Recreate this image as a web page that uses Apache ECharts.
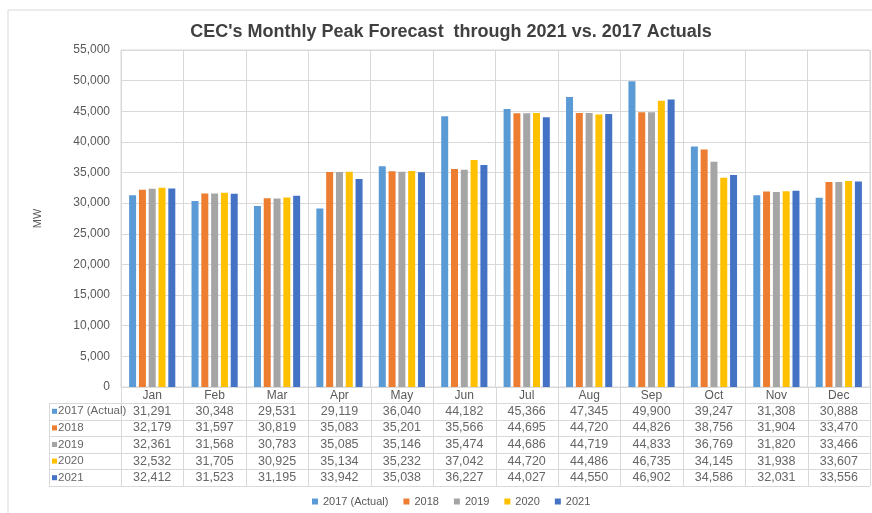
<!DOCTYPE html>
<html><head><meta charset="utf-8">
<script src="https://cdn.jsdelivr.net/npm/echarts@6/dist/echarts.min.js"></script>
<style>html,body{margin:0;padding:0;background:#fff}#c{width:872px;height:513px}</style>
</head><body><div id="c"></div>
<script>
const months = ['Jan','Feb','Mar','Apr','May','Jun','Jul','Aug','Sep','Oct','Nov','Dec'];
const seriesNames = ['2017 (Actual)','2018','2019','2020','2021'];
const s2017 = [31291,30348,29531,29119,36040,44182,45366,47345,49900,39247,31308,30888];
const s2018 = [32179,31597,30819,35083,35201,35566,44695,44720,44826,38756,31904,33470];
const s2019 = [32361,31568,30783,35085,35146,35474,44686,44719,44833,36769,31820,33466];
const s2020 = [32532,31705,30925,35134,35232,37042,44720,44486,46735,34145,31938,33607];
const s2021 = [32412,31523,31195,33942,35038,36227,44027,44550,46902,34586,32031,33556];
const yTicks = [0,5000,10000,15000,20000,25000,30000,35000,40000,45000,50000,55000];
const colors = ['#5B9BD5','#ED7D31','#A5A5A5','#FFC000','#4472C4'];
const allData = [s2017,s2018,s2019,s2020,s2021];

const fmt = v => v.toLocaleString('en-US');
const FONT = '"Liberation Sans", Arial, sans-serif';
const TXT = '#595959';
const LINE = '#d9d9d9';

const chart = echarts.init(document.getElementById('c'), null, {renderer:'canvas'});
const gridL = 121, gridR = 2, gridT = 50, gridB = 126;
chart.setOption({
  animation:false,
  textStyle:{fontFamily:FONT},
  title:{text:"CEC's Monthly Peak Forecast  through 2021 vs. 2017 Actuals", left:446, top:18, textAlign:'center',
    textStyle:{fontFamily:FONT, fontSize:18, fontWeight:'bold', color:'#404040'}},
  legend:{data:seriesNames, left:307, top:491, icon:'rect', itemWidth:6, itemHeight:6, itemGap:15,
    textStyle:{fontFamily:FONT, fontSize:11, color:TXT}},
  grid:{left:gridL, right:gridR, top:gridT, bottom:gridB, show:true, borderColor:LINE, borderWidth:1},
  xAxis:{type:'category', data:months, axisTick:{show:false},
    axisLine:{lineStyle:{color:LINE}},
    axisLabel:{color:TXT, fontSize:12, fontFamily:FONT, margin:3},
    splitLine:{show:true, lineStyle:{color:LINE}}},
  yAxis:{type:'value', min:yTicks[0], max:yTicks[yTicks.length-1], interval:yTicks[1]-yTicks[0],
    name:'MW', nameLocation:'middle', nameGap:78, nameRotate:90,
    nameTextStyle:{color:TXT, fontSize:11, fontFamily:FONT},
    axisLine:{show:false}, axisTick:{show:false},
    axisLabel:{color:TXT, fontSize:12, fontFamily:FONT, margin:11, formatter:v=>fmt(v)},
    splitLine:{lineStyle:{color:LINE}}},
  series: seriesNames.map((n,i)=>({name:n, type:'bar', data:allData[i], barWidth:7, barGap:'40%',
    itemStyle:{color:colors[i]}}))
});

// data table below the axis
const plotW = 872 - gridL - gridR;
const cw = plotW / months.length;
const tableLeft = 49, tableTop = 403, rowH = 16.6, tableBottom = tableTop + rowH*5;
const g = [];
g.push({type:'rect', shape:{x:8, y:10, width:900, height:600}, style:{fill:null, stroke:'#d9d9d9', lineWidth:1}, silent:true, z:-10});
for (let r=0;r<=5;r++){
  const y = Math.round(tableTop + r*rowH)+0.5;
  g.push({type:'line', shape:{x1:tableLeft, y1:y, x2:872-gridR, y2:y}, style:{stroke:LINE, lineWidth:1}, silent:true});
}
for (let c=0;c<=months.length;c++){
  const x = Math.round(gridL + c*cw)+0.5;
  g.push({type:'line', shape:{x1:x, y1:387, x2:x, y2:tableBottom}, style:{stroke:LINE, lineWidth:1}, silent:true});
}
g.push({type:'line', shape:{x1:tableLeft+0.5, y1:tableTop, x2:tableLeft+0.5, y2:tableBottom}, style:{stroke:LINE, lineWidth:1}, silent:true});
allData.forEach((arr,r)=>{
  const cy = tableTop + r*rowH + rowH/2;
  g.push({type:'rect', shape:{x:52, y:cy-2.5, width:5, height:5}, style:{fill:colors[r]}, silent:true});
  g.push({type:'text', x:58, y:cy, style:{text:seriesNames[r], font:'11.5px '+FONT, fill:'#666666', textVerticalAlign:'middle', textAlign:'left'}, silent:true});
  arr.forEach((v,i)=>{
    const cx = chart.convertToPixel({xAxisIndex:0}, months[i]);
    g.push({type:'text', x:cx, y:cy, style:{text:fmt(v), font:'12.5px '+FONT, fill:'#666666', textVerticalAlign:'middle', textAlign:'center'}, silent:true});
  });
});
chart.setOption({graphic:g});
</script></body></html>
